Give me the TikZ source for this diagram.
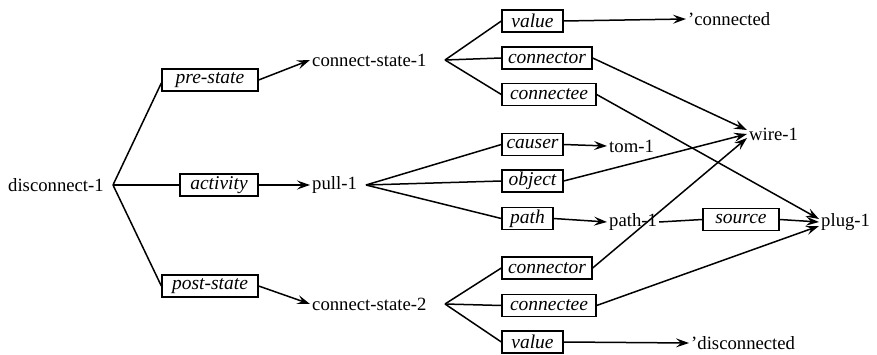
\documentclass[tikz,border=0pt]{standalone}
\usepackage{fontspec}
\setmainfont{Liberation Serif}
\usetikzlibrary{arrows.meta}
\begin{document}
\begin{tikzpicture}[x=1pt,y=-1pt,
  lbl/.style={inner sep=2pt,font=\fontsize{18.7}{20}\selectfont},
  rel/.style={draw,line width=1.3pt,inner sep=0pt,font=\fontsize{19.5}{20}\selectfont\itshape,minimum height=22pt},
  ln/.style={line width=1.5pt},
  arr/.style={line width=1.5pt,-{Stealth[length=13pt,width=9pt,inset=5pt]}}]
\useasboundingbox (0,0) rectangle (877,355);
% nodes
\node[lbl,anchor=west] (disc) at (6,185) {disconnect-1};
\coordinate (jd) at (113,185);
\node[rel,minimum width=96pt] (pre) at (210,80) {pre-state};
\node[rel,minimum width=78pt] (act) at (219,185) {activity};
\node[rel,minimum width=96pt] (post) at (210,286) {post-state};
\node[lbl,anchor=west] (cs1) at (310,60) {connect-state-1};
\node[lbl,anchor=west] (pull) at (310,185) {pull-1};
\node[lbl,anchor=west] (cs2) at (310,304) {connect-state-2};
\coordinate (j1) at (445,60);
\coordinate (jp) at (366,185);
\coordinate (j2) at (445,304);
\node[rel,minimum width=61pt] (val1) at (532.5,21) {value};
\node[rel,minimum width=90pt] (con1) at (547,58) {connector};
\node[rel,minimum width=94pt] (cee1) at (549,94.5) {connectee};
\node[rel,minimum width=61pt] (causer) at (532.5,144.5) {causer};
\node[rel,minimum width=61pt] (obj) at (532.5,181) {object};
\node[rel,minimum width=51pt] (path) at (527.5,218.5) {path};
\node[rel,minimum width=90pt] (con2) at (547,268) {connector};
\node[rel,minimum width=94pt] (cee2) at (549,305.5) {connectee};
\node[rel,minimum width=61pt] (val2) at (532.5,342) {value};
\node[rel,minimum width=76pt] (src) at (741,219.5) {source};
\node[lbl,anchor=west] (conn) at (686,19) {'connected};
\node[lbl,anchor=west] (tom) at (607,146) {tom-1};
\node[lbl,anchor=west] (wire) at (747,134) {wire-1};
\node[lbl,anchor=west] (path1) at (607,222) {path-1};
\node[lbl,anchor=west] (plug) at (819,222) {plug-1};
\node[lbl,anchor=west] (disco) at (689,343) {'disconnected};
% connectors
\draw[ln] (jd) -- ([yshift=-3pt]pre.west);
\draw[ln] (jd) -- (act.west);
\draw[ln] (jd) -- (post.west);
\draw[arr] (pre.east) -- (cs1.west);
\draw[arr] (act.east) -- (pull.west);
\draw[arr] (post.east) -- (cs2.west);
\draw[ln] (j1) -- (val1.west);
\draw[ln] (j1) -- (con1.west);
\draw[ln] (j1) -- (cee1.west);
\draw[ln] (jp) -- (causer.west);
\draw[ln] (jp) -- (obj.west);
\draw[ln] (jp) -- (path.west);
\draw[ln] (j2) -- (con2.west);
\draw[ln] (j2) -- (cee2.west);
\draw[ln] (j2) -- (val2.west);
\draw[arr] (val1.east) -- (conn.west);
\draw[arr] (con1.east) -- ([yshift=4pt]wire.west);
\draw[arr] (cee1.east) -- ([yshift=3pt]plug.west);
\draw[arr] (causer.east) -- (tom.west);
\draw[arr] (obj.east) -- (wire.west);
\draw[arr] (path.east) -- (path1.west);
\draw[ln] (path1.east) -- (src.west);
\draw[arr] (src.east) -- (plug.west);
\draw[arr] (con2.east) -- ([yshift=-4pt]wire.west);
\draw[arr] (cee2.east) -- ([yshift=-4pt]plug.west);
\draw[arr] (val2.east) -- (disco.west);
\end{tikzpicture}
\end{document}
